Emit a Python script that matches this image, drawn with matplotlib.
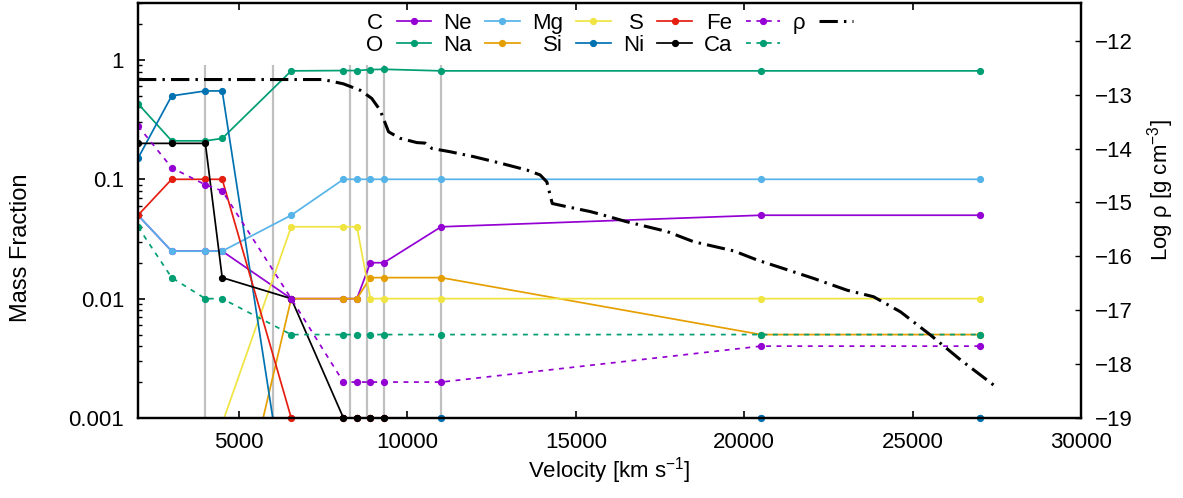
import numpy as np
import matplotlib
matplotlib.use("Agg")
import matplotlib.pyplot as plt
from matplotlib.ticker import FixedLocator, LogLocator, NullFormatter

plt.rcParams['font.family'] = ['Liberation Sans', 'DejaVu Sans']
plt.rcParams['mathtext.fontset'] = 'custom'
plt.rcParams['mathtext.rm'] = 'Liberation Sans'
plt.rcParams['mathtext.it'] = 'Liberation Sans'
plt.rcParams['font.size'] = 16

# shell velocities (km/s)
velocity = [2000, 3000, 4000, 4500, 6550, 8100, 8500, 8900, 9300, 11000, 20500, 27000]

# mass fractions per element (values below 0.001 fall off the plot)
carbon = [0.05, 0.025, 0.025, 0.025, 0.01, 0.01, 0.01, 0.02, 0.02, 0.04, 0.05, 0.05]
oxygen = [0.43, 0.21, 0.21, 0.22, 0.81, 0.815, 0.815, 0.83, 0.835, 0.81, 0.81, 0.81]
neon = [0.05, 0.025, 0.025, 0.025, 0.05, 0.1, 0.1, 0.1, 0.1, 0.1, 0.1, 0.1]
sodium = [1e-5, 1e-5, 1e-5, 3.5e-5, 0.01, 0.01, 0.01, 0.015, 0.015, 0.015, 0.005, 0.005]
magnesium = [1e-5, 1e-5, 1e-5, 9e-4, 0.04, 0.04, 0.04, 0.01, 0.01, 0.01, 0.01, 0.01]
silicon = [0.15, 0.5, 0.55, 0.55, 1e-4, 1e-4, 1e-4, 1e-4, 1e-4, 0.001, 0.001, 0.001]
sulfur = [0.05, 0.1, 0.1, 0.1, 0.001, 0.001, 0.001, 0.001, 0.001, 1e-5, 1e-5, 1e-5]
nickel = [0.2, 0.2, 0.2, 0.015, 0.01, 0.001, 0.001, 0.001, 0.001, 1e-5, 1e-5, 1e-5]
iron = [0.28, 0.125, 0.09, 0.08, 0.01, 0.002, 0.002, 0.002, 0.002, 0.002, 0.004, 0.004]
calcium = [0.04, 0.015, 0.01, 0.01, 0.005, 0.005, 0.005, 0.005, 0.005, 0.005, 0.005, 0.005]

# shell boundaries (grey markers)
boundaries = [4000, 6000, 8300, 8800, 9300, 11000]

# density profile
rho_velocity = [2000, 7500, 8100, 8600, 8940, 9190, 9340, 9440, 9780, 10280, 10530,
                10730, 11270, 11960, 12750, 13550, 13940, 14140, 14300, 14740, 15430,
                15730, 16520, 17710, 18500, 19690, 20390, 21280, 22060, 23060, 23840,
                24640, 25530, 26420, 27430]
log_rho = [-12.72, -12.72, -12.80, -12.92, -13.07, -13.29, -13.53, -13.69, -13.81, -13.89,
           -13.90, -14.00, -14.06, -14.15, -14.27, -14.40, -14.49, -14.62, -15.02, -15.08,
           -15.17, -15.22, -15.36, -15.54, -15.73, -15.90, -16.07, -16.25, -16.41, -16.63,
           -16.75, -17.03, -17.46, -17.92, -18.40]

species = [
    ("C", carbon, "#9400d3", "-"),
    ("O", oxygen, "#009e73", "-"),
    ("Ne", neon, "#56b4e9", "-"),
    ("Na", sodium, "#e69f00", "-"),
    ("Mg", magnesium, "#f0e442", "-"),
    ("Si", silicon, "#0072b2", "-"),
    ("S", sulfur, "#e51e10", "-"),
    ("Ni", nickel, "black", "-"),
    ("Fe", iron, "#9400d3", "--"),
    ("Ca", calcium, "#009e73", "--"),
]

ymin, ymax = 0.001, 3.0

fig = plt.figure(figsize=(11.83, 4.98), dpi=100)
ax = fig.add_axes([138 / 1183, 80 / 498, 943 / 1183, 415 / 498])

ax.vlines(boundaries, ymin, 0.9, color="#c0c0c0", lw=1.6, zorder=1)

v = np.array(velocity)
handles = []
for name, vals, color, ls in species:
    y = np.array(vals)
    line, = ax.plot(v, y, color=color, lw=1.25, marker="o", ms=4.2, label=name)
    if ls == "--":
        line.set_dashes((2.8, 3.2))
    handles.append(line)
    # points sitting on the bottom border are drawn in full
    edge = y == ymin
    if edge.any():
        ax.plot(v[edge], y[edge], "o", color=color, ms=4.2, clip_on=False)

ax.set_yscale("log")
ax.set_xlim(2000, 30000)
ax.set_ylim(ymin, ymax)
ax.yaxis.set_major_locator(FixedLocator([0.001, 0.01, 0.1, 1]))
ax.set_yticklabels(["0.001", "0.01", "0.1", "1"])
ax.yaxis.set_minor_locator(LogLocator(base=10, subs=np.arange(2, 10)))
ax.yaxis.set_minor_formatter(NullFormatter())
ax.set_xticks([5000, 10000, 15000, 20000, 25000, 30000])
ax.tick_params(which="major", direction="in", length=5, width=1.2, pad=10,
               top=True, right=True)
ax.tick_params(which="minor", direction="in", length=3, width=1.0, right=True)
ax.tick_params(axis="x", which="minor", bottom=False, top=False)
ax.set_xlabel("Velocity [km s$^{-1}$]")
ax.xaxis.set_label_coords(0.5, -0.09)
ax.set_ylabel("Mass Fraction", fontsize=17)
ax.yaxis.set_label_coords(-0.112, 0.41)
for sp in ax.spines.values():
    sp.set_linewidth(1.6)

ax2 = ax.twinx()
rho_line, = ax2.plot(rho_velocity, log_rho, color="black", lw=2.2, label="ρ")
rho_line.set_dashes((6, 2, 0.8, 2))
ax2.set_ylim(-19, -11.3)
ax2.set_yticks(range(-19, -11))
ax2.tick_params(direction="in", length=4, width=1.0, pad=10)
ax2.set_ylabel("Log ρ [g cm$^{-3}$]")
ax2.yaxis.set_label_coords(1.068, 0.55)
for sp in ax2.spines.values():
    sp.set_linewidth(1.6)
handles.append(rho_line)

ax2.legend(handles=handles, ncol=6, loc="upper center", bbox_to_anchor=(0.5, 1.0),
           frameon=False, markerfirst=False, handlelength=1.55, handletextpad=0.6,
           columnspacing=0.55, labelspacing=0.05, borderaxespad=0.05, fontsize=16)

fig.savefig("out.png", dpi=100)
